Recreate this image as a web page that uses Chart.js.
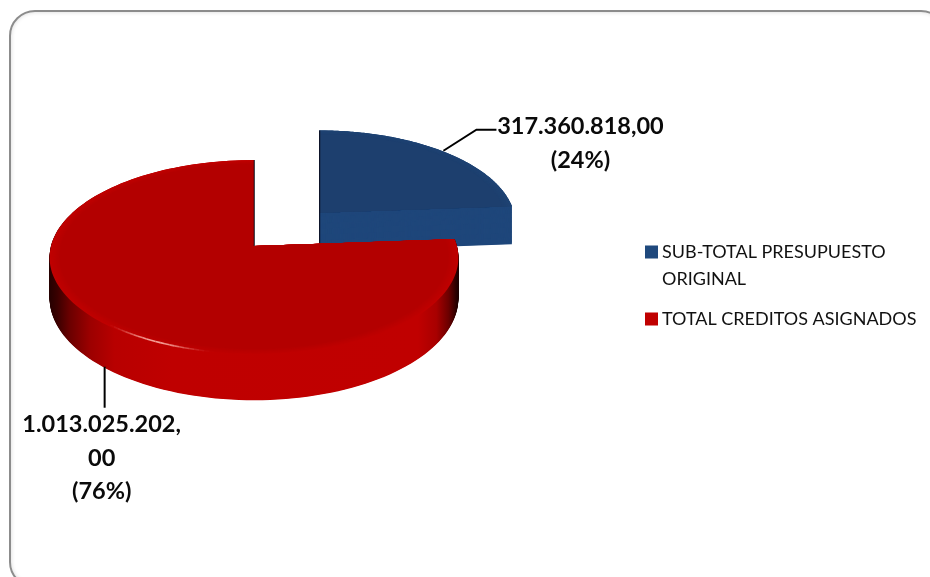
<!DOCTYPE html>
<html><head><meta charset="utf-8">
<style>
html,body{margin:0;padding:0;background:#fff;width:930px;height:577px;overflow:hidden}
#frame{position:absolute;left:9px;top:10px;width:934px;height:574px;border:2px solid #8c8c8c;border-radius:26px;box-shadow:inset 0 0 4px #d8d8d8;background:#fff}
#wrap{position:absolute;left:0;top:0;width:930px;height:577px}
</style>
<script src="https://cdn.jsdelivr.net/npm/chart.js@4"></script>
</head><body>
<div id="frame"></div>
<div id="wrap"><canvas id="c" width="930" height="577"></canvas></div>
<script>
const categories = [['SUB-TOTAL PRESUPUESTO','ORIGINAL'], 'TOTAL CREDITOS ASIGNADOS'];
const values = [317360818.00, 1013025202.00];
const valueLabels = [['317.360.818,00','(24%)'], ['1.013.025.202,','00','(76%)']];
const legendColors = ['#1F497D','#C00000'];
const explode = [100, 0];

const TILT = 0.473, PERSP = 0.118, DEPTH = 40;

function scaleAt(t){ return 1/(1 - PERSP*t); }
function hub(arc, i){
  const mid = (arc.startAngle + arc.endAngle)/2, off = explode[i], R = arc.outerRadius;
  const wx = Math.cos(mid)*off, wy = Math.sin(mid)*off/R;
  const s = scaleAt(wy);
  return {x: arc.x + wx*s, y: arc.y + wy*s*R*TILT, s};
}
function pt(arc, h, a, f, z){
  const R = arc.outerRadius, wy = Math.sin(a)*f, s = scaleAt(wy)*h.s;
  return {x: h.x + Math.cos(a)*f*R*s, y: h.y + wy*R*TILT*s + z*s};
}
function slicePath(ctx, arc, h, f, z){
  ctx.beginPath();
  ctx.moveTo(h.x, h.y + z*h.s);
  const n = 140;
  for(let k=0;k<=n;k++){
    const a = arc.startAngle + (arc.endAngle-arc.startAngle)*k/n;
    const p = pt(arc,h,a,f,z);
    ctx.lineTo(p.x,p.y);
  }
  ctx.closePath();
}
function mixHex(a,b,t){
  const pa=[1,3,5].map(i=>parseInt(a.substr(i,2),16)), pb=[1,3,5].map(i=>parseInt(b.substr(i,2),16));
  return 'rgb('+pa.map((v,i)=>Math.round(v+(pb[i]-v)*t)).join(',')+')';
}
const looks = [
  {side:'#1F477B', rim:'#1E4373', top:'#1D3F6E'},
  {side:null, rim:'#C00000', top:'#B30000'}
];
const pie3d = {
  id:'pie3d',
  afterLayout(chart){
    const l = chart.legend;
    const h = l.bottom - l.top;
    l.left = 637; l.top = 230; l.bottom = l.top + h; l.right = l.left + l.width;
  },
  beforeDatasetDraw(chart){
    const ctx = chart.ctx, arcs = chart.getDatasetMeta(0).data;
    ctx.save();
    arcs.forEach((arc,i)=>{
      const h = hub(arc,i), R = arc.outerRadius, look = looks[i];
      let side = look.side;
      if(!side){
        const g = ctx.createLinearGradient(h.x-R-2,0,h.x+R+2,0);
        [[0,'#240000'],[.02,'#3a0000'],[.05,'#6a0000'],[.1,'#9c0000'],[.16,'#b80000'],[.3,'#bf0000'],[.9,'#c00000'],[.945,'#a80000'],[.975,'#6a0000'],[.993,'#2a0000'],[1,'#180000']].forEach(s=>g.addColorStop(s[0],s[1]));
        side = g;
      }
      ctx.fillStyle = side;
      for(let z=DEPTH;z>=0;z-=0.5){ slicePath(ctx,arc,h,1,z); ctx.fill(); }
      // bevelled top face
      const steps = 10;
      for(let k=0;k<=steps;k++){
        const t = k/steps;
        ctx.fillStyle = mixHex(look.rim, look.top, t);
        slicePath(ctx,arc,h,1-0.05*t,0); ctx.fill();
      }
      // dark edge on the vertical cut
      const a12 = -Math.PI/2;
      const e = pt(arc,h,a12,1,0);
      ctx.strokeStyle = 'rgba(10,10,25,.85)'; ctx.lineWidth = 1.2;
      ctx.beginPath(); ctx.moveTo(e.x+0.3,e.y); ctx.lineTo(h.x+0.3,h.y + (i===0 ? DEPTH*h.s : 0)); ctx.stroke();
      if(i===1){
        // specular streak along the front rim
        const a0 = 100*Math.PI/180, a1 = 132*Math.PI/180, n = 24;
        ctx.lineWidth = 1.6;
        for(let k=0;k<n;k++){
          const u=(k+.5)/n, a=a0+(a1-a0)*k/n, b=a0+(a1-a0)*(k+1)/n;
          const p=pt(arc,h,a,.99,0), q=pt(arc,h,b,.99,0);
          ctx.strokeStyle='rgba(255,190,180,'+(0.85*Math.sin(Math.PI*u)**2).toFixed(3)+')';
          ctx.beginPath(); ctx.moveTo(p.x,p.y); ctx.lineTo(q.x,q.y); ctx.stroke();
        }
      }
    });
    ctx.restore();
    return false;
  },
  afterDraw(chart){
    const ctx = chart.ctx, arcs = chart.getDatasetMeta(0).data;
    ctx.save();
    ctx.strokeStyle='#000'; ctx.lineWidth=2; ctx.fillStyle='#0a0a0a';
    ctx.textAlign='center'; ctx.textBaseline='middle';
    ctx.font='bold 23.5px Lato';
    arcs.forEach((arc,i)=>{
      const h = hub(arc,i), mid=(arc.startAngle+arc.endAngle)/2;
      if(i===0){
        const p = pt(arc,h,mid,1,0);
        ctx.beginPath(); ctx.moveTo(p.x+2,p.y); ctx.lineTo(p.x+35,p.y-21); ctx.lineTo(p.x+55,p.y-21); ctx.stroke();
        valueLabels[0].forEach((t,k)=>ctx.fillText(t,p.x+139,p.y-24+k*34));
      } else {
        const p = pt(arc,h,mid,1,DEPTH);
        ctx.beginPath(); ctx.moveTo(p.x+2,p.y); ctx.lineTo(p.x+2,p.y+41); ctx.stroke();
        valueLabels[1].forEach((t,k)=>ctx.fillText(t,p.x-1,p.y+58+k*33.5));
      }
    });
    ctx.restore();
  }
};
new Chart(document.getElementById('c'),{
  type:'pie',
  plugins:[pie3d],
  data:{labels:categories,datasets:[{data:values,backgroundColor:legendColors,borderWidth:0}]},
  options:{
    responsive:false,animation:false,radius:203,
    layout:{padding:{left:0,top:0,right:422,bottom:85}},
    plugins:{
      tooltip:{enabled:false},
      legend:{display:true,position:'chartArea',align:'start',
        labels:{font:{family:'Lato',size:18,lineHeight:1.5},color:'#111',usePointStyle:true,pointStyle:'rect',boxWidth:3,boxHeight:13,padding:13}}
    }
  }
});
</script>
</body></html>
